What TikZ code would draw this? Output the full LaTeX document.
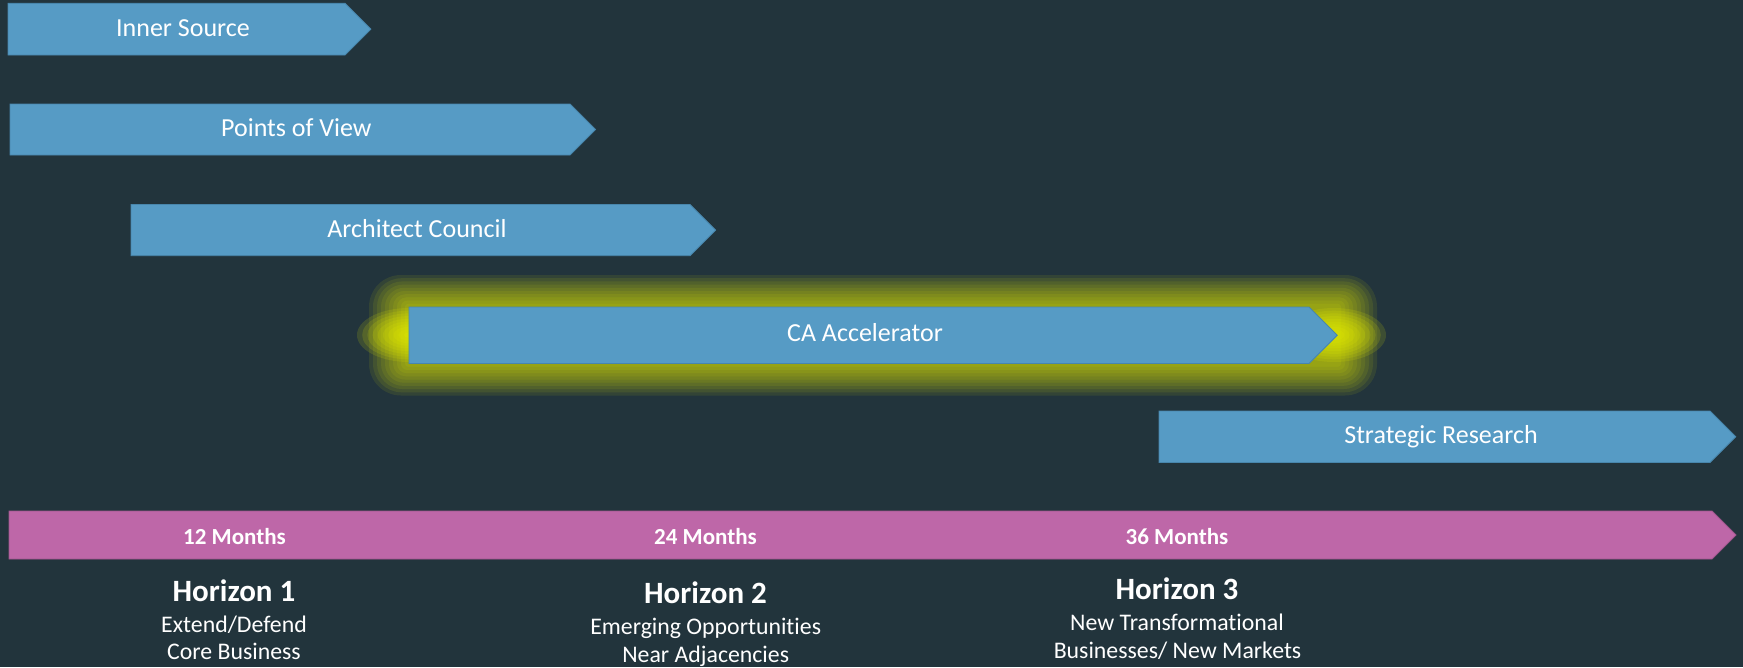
\documentclass[tikz,border=0pt]{standalone}
\usepackage{fontspec}
\setmainfont{Carlito}[Ligatures={NoCommon}]
\definecolor{bg}{RGB}{34,52,60}
\definecolor{barblue}{RGB}{86,155,197}
\definecolor{baredge}{RGB}{72,134,172}
\definecolor{barmag}{RGB}{190,103,168}
\definecolor{magedge}{RGB}{160,86,142}
\definecolor{glowc}{RGB}{232,240,0}
\tikzset{
  x=1pt, y=-1pt,
  bluebar/.style={fill=barblue, draw=baredge, line width=0.9pt},
  magbar/.style={fill=barmag, draw=magedge, line width=0.9pt},
  lbl/.style={text=white, inner sep=0pt, anchor=base, font=\fontsize{26}{31}\selectfont},
  month/.style={text=white, inner sep=0pt, anchor=base, font=\bfseries\fontsize{23}{27}\selectfont},
  horiz/.style={text=white, inner sep=0pt, anchor=base, font=\bfseries\fontsize{31}{36}\selectfont},
  sub/.style={text=white, inner sep=0pt, anchor=base, font=\fontsize{23.8}{28}\selectfont},
}
% #1 style, #2 left x, #3 top y, #4 bottom y, #5 body end x
\newcommand\chevronbar[5]{%
  \path[#1] (#2,#3) -- (#5,#3) -- ({#5+(#4-#3)/2},{(#3+#4)/2}) -- (#5,#4) -- (#2,#4) -- cycle;}
\begin{document}
\begin{tikzpicture}
\useasboundingbox (0,0) rectangle (1743,667);
\fill[bg] (0,0) rectangle (1743,667);

% glow around CA Accelerator
\foreach \k in {1,...,10}{
  \pgfmathsetmacro\dx{4*\k}
  \pgfmathsetmacro\dy{3.2*\k}
  \fill[glowc, opacity=0.09, rounded corners=\dy] ({409-\dx},{307-\dy}) rectangle ({1337+\dx},{363.5+\dy});
}
\foreach \k in {1,...,10}{
  \pgfmathsetmacro\rx{5.2*\k}
  \pgfmathsetmacro\ry{2.7*\k}
  \fill[glowc, opacity=0.14] (409,335) ellipse [x radius=\rx, y radius=\ry];
  \fill[glowc, opacity=0.14] (1334,335) ellipse [x radius=\rx, y radius=\ry];
}

\chevronbar{bluebar}{8}{3.3}{55}{345}
\chevronbar{bluebar}{10}{104}{155}{570}
\chevronbar{bluebar}{131}{204.5}{255.7}{690}
\chevronbar{bluebar}{409}{307}{363.5}{1309}
\chevronbar{bluebar}{1159}{411}{462.5}{1710}
\chevronbar{magbar}{9}{511}{559}{1712}

\node[lbl] (inner) at (183,36) {Inner Source};
\node[lbl] (pov) at (296.4,136) {Points of View};
\node[lbl] (arch) at (417,237) {Architect Council};
\node[lbl] (ca) at (865,341.7) {CA Accelerator};
\node[lbl] (sr) at (1441,443.3) {Strategic Research};

\node[month] (m12) at (234.5,544) {12 Months};
\node[month] (m24) at (705.5,544) {24 Months};
\node[month] (m36) at (1177,544) {36 Months};

\node[horiz] (h1) at (234,601) {Horizon 1};
\node[sub] (h1a) at (234,632) {Extend/Defend};
\node[sub] (h1b) at (234,659.3) {Core Business};

\node[horiz] (h2) at (705.5,603.3) {Horizon 2};
\node[sub] (h2a) at (705.7,634.3) {Emerging Opportunities};
\node[sub] (h2b) at (705.7,662.3) {Near Adjacencies};

\node[horiz] (h3) at (1177,599) {Horizon 3};
\node[sub] (h3a) at (1177,630) {New Transformational};
\node[sub] (h3b) at (1177.5,658.3) {Businesses/ New Markets};
\end{tikzpicture}
\end{document}
